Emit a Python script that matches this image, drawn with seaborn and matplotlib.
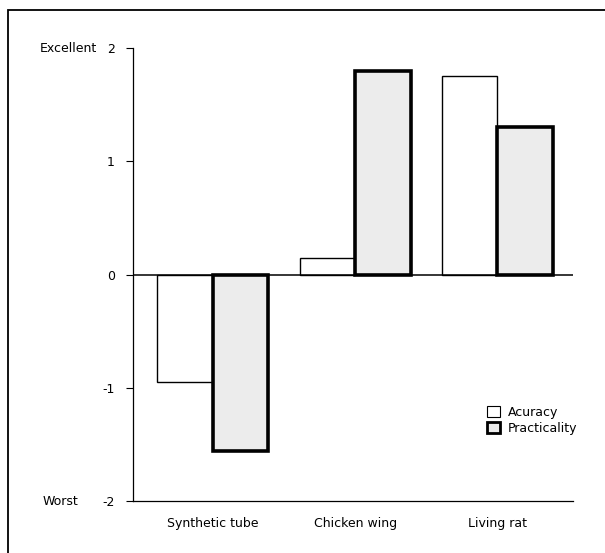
import pandas as pd
import seaborn as sns
import matplotlib.pyplot as plt
from matplotlib.patches import Rectangle, Patch
from matplotlib.transforms import blended_transform_factory

sns.set_style("white")
plt.rcParams['font.family'] = ['DejaVu Sans']
plt.rcParams['text.color'] = 'black'
plt.rcParams['xtick.color'] = 'black'
plt.rcParams['ytick.color'] = 'black'

# values
models = ["Synthetic tube", "Chicken wing", "Living rat"]
accuracy = [-0.95, 0.15, 1.75]
practicality = [-1.56, 1.80, 1.30]
series = ["Acuracy", "Practicality"]
yticks = [-2, -1, 0, 1, 2]
colors = ["white", "#ececec"]

df = pd.DataFrame({
    "model": models * 2,
    "score": accuracy + practicality,
    "series": [series[0]] * 3 + [series[1]] * 3,
})

fig = plt.figure(figsize=(6.05, 5.53), dpi=100)
ax = fig.add_axes([0.22, 0.094, 0.727, 0.819])

sns.barplot(data=df, x="model", y="score", hue="series", order=models,
            hue_order=series, palette=colors, width=0.78,
            saturation=1, errorbar=None, legend=False, ax=ax)

# white bars thin edge, grey bars heavy edge
for bar in ax.containers[0]:
    bar.set_edgecolor("black")
    bar.set_linewidth(1.0)
for bar in ax.containers[1]:
    bar.set_edgecolor("black")
    bar.set_linewidth(2.6)

ax.axhline(0, color="black", lw=1.1, zorder=3)
ax.set_ylim(-2, 2)
ax.set_xlim(-0.56, 2.53)
ax.set_yticks(yticks)
ax.set_yticklabels([str(t) for t in yticks], fontsize=9)
ax.tick_params(axis="y", left=True, length=5, width=0.8, pad=8)
ax.tick_params(axis="x", bottom=False, labelsize=9, pad=8)
ax.set_xlabel("")
ax.set_ylabel("")
sns.despine(ax=ax)
for s in ["left", "bottom"]:
    ax.spines[s].set_color("black")
    ax.spines[s].set_linewidth(0.9)

trans = blended_transform_factory(ax.transAxes, ax.transData)
ax.text(-0.212, 2, "Excellent", transform=trans, ha="left", va="center", fontsize=9)
ax.text(-0.205, -2, "Worst", transform=trans, ha="left", va="center", fontsize=9)

handles = [Patch(facecolor=colors[0], edgecolor="black", linewidth=0.8, label=series[0]),
           Patch(facecolor=colors[1], edgecolor="black", linewidth=2.0, label=series[1])]
ax.legend(handles=handles, loc="upper left", bbox_to_anchor=(0.78, 0.235),
          frameon=False, fontsize=9, handlelength=1.0, handleheight=1.0,
          handletextpad=0.6, labelspacing=0.25)

# outer frame of the scanned figure
fig.add_artist(Rectangle((0.013, -0.1), 1.2, 1.082, transform=fig.transFigure,
                         fill=False, lw=1.3, edgecolor="black"))

fig.savefig("out.png", dpi=100)
